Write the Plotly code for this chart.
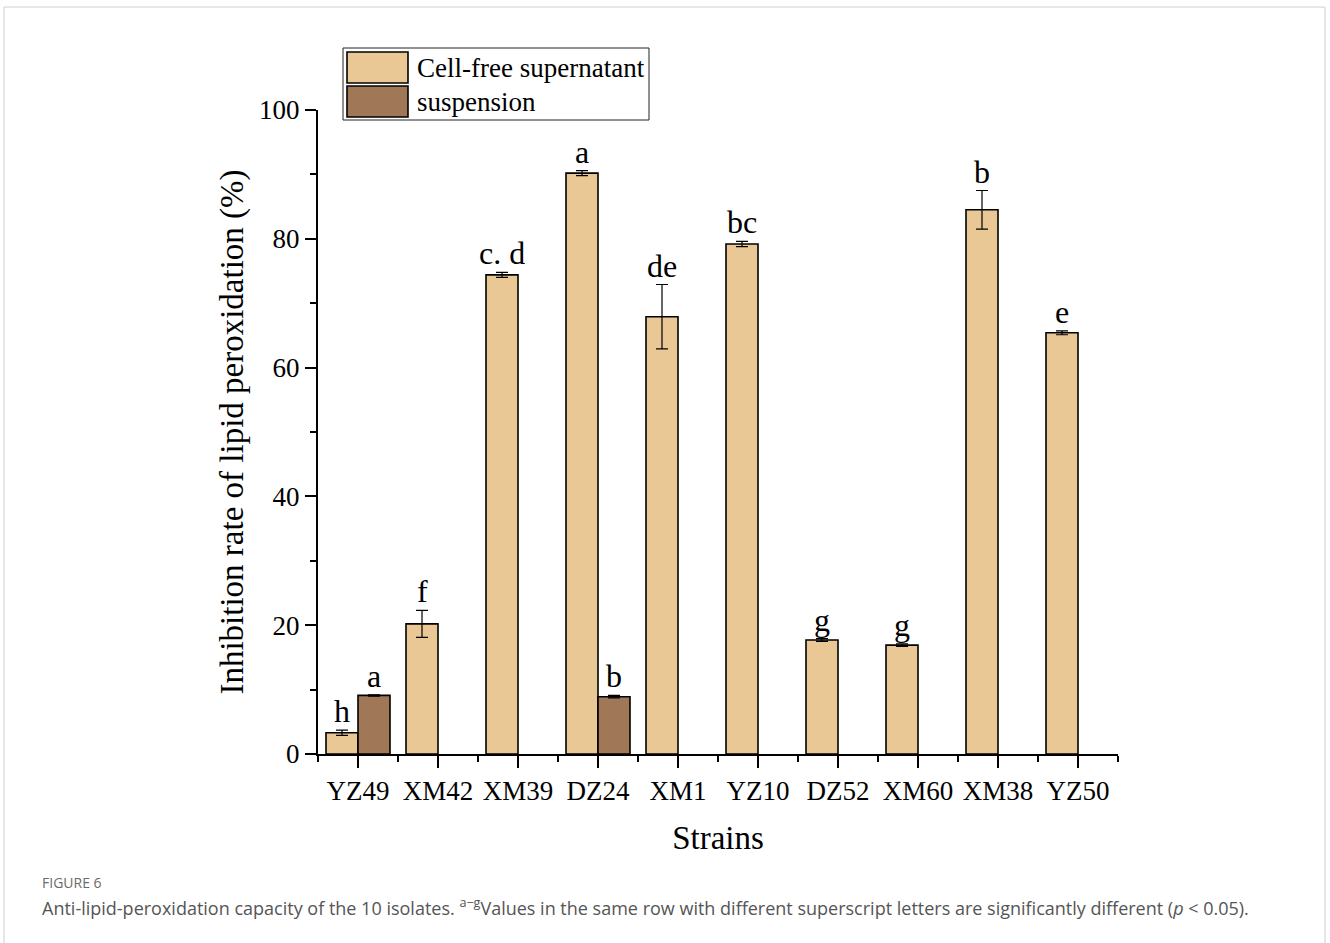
import plotly.graph_objects as go

strains = ["YZ49", "XM42", "XM39", "DZ24", "XM1", "YZ10", "DZ52", "XM60", "XM38", "YZ50"]
series_names = ["Cell-free supernatant", "suspension"]
supernatant = [3.3, 20.2, 74.4, 90.2, 67.9, 79.2, 17.7, 16.9, 84.5, 65.4]
supernatant_err = [0.4, 2.1, 0.4, 0.4, 5.0, 0.4, 0.2, 0.2, 3.0, 0.3]
suspension = [9.1, None, None, 8.9, None, None, None, None, None, None]
suspension_err = [0.1, None, None, 0.2, None, None, None, None, None, None]
sup_letters = ["h", "f", "c. d", "a", "de", "bc", "g", "g", "b", "e"]
susp_letters = ["a", None, None, "b", None, None, None, None, None, None]
y_ticks = [0, 20, 40, 60, 80, 100]

W, H = 1330, 943
PL, PR, PT, PB = 318, 1118, 110, 754

def px(x):
    return (x - PL) / (PR - PL)

def py(y):
    return (PB - y) / (PB - PT)

SERIF = "Liberation Serif, Times New Roman, serif"
C_SUP = "#EAC896"
C_SUS = "#A07858"

xpos = list(range(len(strains)))

fig = go.Figure()
fig.add_trace(go.Bar(
    x=xpos, y=supernatant, name=series_names[0], offsetgroup="a",
    marker=dict(color=C_SUP, line=dict(color="black", width=1.6)),
    error_y=dict(type="data", array=supernatant_err, color="black", thickness=1.2, width=6),
    showlegend=False,
))
fig.add_trace(go.Bar(
    x=xpos, y=suspension, name=series_names[1], offsetgroup="b",
    marker=dict(color=C_SUS, line=dict(color="black", width=1.6)),
    error_y=dict(type="data", array=suspension_err, color="black", thickness=1.2, width=6),
    showlegend=False,
))

LFONT = dict(family=SERIF, size=32, color="black")
# significance letters
for i, (v, e, t) in enumerate(zip(supernatant, supernatant_err, sup_letters)):
    if t:
        fig.add_annotation(x=i - 0.2, y=v + e, text=t, showarrow=False, yanchor="bottom",
                           yshift=-1, font=LFONT)
for i, (v, e, t) in enumerate(zip(suspension, suspension_err, susp_letters)):
    if t and v is not None:
        fig.add_annotation(x=i + 0.2, y=v + (e or 0), text=t, showarrow=False, yanchor="bottom",
                           yshift=-1, font=LFONT)

shapes = []
# custom legend
shapes.append(dict(type="rect", xref="paper", yref="paper", x0=px(343), x1=px(649), y0=py(120), y1=py(48),
                   line=dict(color="#222", width=1), fillcolor="white", layer="above"))
for (y0, y1), col in zip([(52, 83), (86, 117)], [C_SUP, C_SUS]):
    shapes.append(dict(type="rect", xref="paper", yref="paper", x0=px(347), x1=px(408), y0=py(y1), y1=py(y0),
                       line=dict(color="black", width=1.6), fillcolor=col, layer="above"))
for yc, name in zip([68, 102], series_names):
    fig.add_annotation(xref="paper", yref="paper", x=px(415), y=py(yc), text=name, showarrow=False,
                       xanchor="left", yanchor="middle", font=dict(family=SERIF, size=27, color="black"))

# figure frame
shapes.append(dict(type="rect", xref="paper", yref="paper", x0=px(4), x1=px(1325), y0=py(960), y1=py(7),
                   line=dict(color="#cfcfcf", width=1), layer="below"))
fig.update_layout(shapes=shapes)

# caption
fig.add_annotation(xref="paper", yref="paper", x=px(40), y=py(883), text="FIGURE 6", showarrow=False,
                   xanchor="left", yanchor="middle", font=dict(family="Open Sans", size=14, color="#6b6b6b"))
fig.add_annotation(xref="paper", yref="paper", x=px(40), y=py(907),
                   text="Anti-lipid-peroxidation capacity of the 10 isolates. <sup>a\u2212g</sup>Values in the same row with different superscript letters are significantly different (<i>p</i> &lt; 0.05).",
                   showarrow=False, xanchor="left", yanchor="middle",
                   font=dict(family="Open Sans", size=18, color="#555555"))

fig.update_layout(
    width=W, height=H,
    margin=dict(l=PL, r=W - PR, t=PT, b=H - PB, pad=0),
    paper_bgcolor="white", plot_bgcolor="white",
    barmode="group", bargap=0.2, bargroupgap=0,
    font=dict(family=SERIF, color="black"),
    xaxis=dict(
        range=[-0.5, 9.5], tickmode="array", tickvals=xpos, ticktext=strains,
        showline=True, linecolor="black", linewidth=2, ticks="outside", ticklen=12, tickwidth=2,
        tickcolor="black", showgrid=False, zeroline=False,
        tickfont=dict(family=SERIF, size=27, color="black"),
        minor=dict(tickmode="array", tickvals=[k - 0.5 for k in range(11)], ticks="outside",
                   ticklen=6, tickwidth=2, tickcolor="black", showgrid=False),
        title=dict(text="Strains", font=dict(family=SERIF, size=33, color="black"), standoff=20),
    ),
    yaxis=dict(
        range=[0, 100], tickmode="array", tickvals=y_ticks,
        showline=True, linecolor="black", linewidth=2, ticks="outside", ticklen=11, tickwidth=2,
        tickcolor="black", showgrid=False, zeroline=False,
        tickfont=dict(family=SERIF, size=27, color="black"),
        minor=dict(tickmode="array", tickvals=[10, 30, 50, 70, 90], ticks="outside",
                   ticklen=6, tickwidth=2, tickcolor="black", showgrid=False),
        title=dict(text="Inhibition rate of lipid peroxidation (%)", font=dict(family=SERIF, size=33, color="black"), standoff=6),
    ),
)

fig.write_html("out.html")
